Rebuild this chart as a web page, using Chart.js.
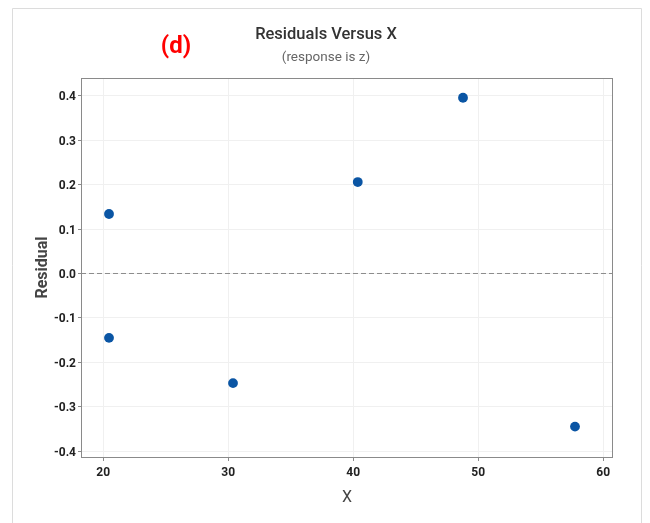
<!DOCTYPE html>
<html><head><meta charset="utf-8">
<script src="https://cdn.jsdelivr.net/npm/chart.js@4"></script>
<style>html,body{margin:0;padding:0;background:#fff;}#wrap{position:relative;width:650px;height:523px;}</style>
</head><body><div id="wrap"><canvas id="c" width="650" height="523"></canvas></div>
<script>
const xValues = [20.46, 20.46, 30.38, 40.36, 48.78, 57.74];
const residuals = [0.134, -0.145, -0.247, 0.206, 0.396, -0.345];
const xTicks = [20, 30, 40, 50, 60];
const yTicks = [-0.4, -0.3, -0.2, -0.1, 0.0, 0.1, 0.2, 0.3, 0.4];
const xRange = [18.22, 60.78];
const yRange = [-0.4135, 0.4405];
const referenceLevel = 0;
const chartTitle = 'Residuals Versus X';
const chartSubtitle = '(response is z)';
const panelLabel = '(d)';
const xAxisTitle = 'X';
const yAxisTitle = 'Residual';

const FONT = 'Roboto, "Liberation Sans", sans-serif';

const framePlugin = {
  id: 'frame',
  beforeDraw(chart) {
    const ctx = chart.ctx;
    ctx.save();
    ctx.fillStyle = '#fff';
    ctx.fillRect(0, 0, chart.width, chart.height);
    ctx.strokeStyle = '#dcdcdc';
    ctx.lineWidth = 1;
    ctx.beginPath();
    ctx.moveTo(12.5, chart.height);
    ctx.lineTo(12.5, 8.5);
    ctx.lineTo(641.5, 8.5);
    ctx.lineTo(641.5, chart.height);
    ctx.stroke();
    ctx.restore();
  },
  beforeDatasetsDraw(chart) {
    const a = chart.chartArea, ctx = chart.ctx;
    ctx.save();
    ctx.strokeStyle = '#8a8a8a';
    ctx.lineWidth = 1;
    ctx.strokeRect(Math.round(a.left) + 0.5, Math.round(a.top) + 0.5,
      Math.round(a.right - a.left) - 1, Math.round(a.bottom - a.top));
    ctx.restore();
  },
  afterDraw(chart) {
    const ctx = chart.ctx;
    ctx.save();
    ctx.textAlign = 'center';
    ctx.textBaseline = 'middle';
    ctx.fillStyle = '#333';
    ctx.font = '500 16.5px ' + FONT;
    ctx.fillText(chartTitle, 326, 35);
    ctx.fillStyle = '#666';
    ctx.font = '13.5px ' + FONT;
    ctx.fillText(chartSubtitle, 326, 58);
    ctx.fillStyle = '#ff0000';
    ctx.font = 'bold 24px ' + FONT;
    ctx.fillText(panelLabel, 176, 47);
    ctx.restore();
  }
};

new Chart(document.getElementById('c'), {
  type: 'scatter',
  data: {
    datasets: [
      {
        type: 'scatter',
        data: xValues.map((x, i) => ({x: x, y: residuals[i]})),
        backgroundColor: '#0a55a4',
        borderColor: '#0a55a4',
        borderWidth: 0,
        pointRadius: 4.9,
        pointHoverRadius: 4.9,
        order: 0
      },
      {
        type: 'line',
        data: [{x: xRange[0], y: referenceLevel}, {x: xRange[1], y: referenceLevel}],
        borderColor: '#8c8c8c',
        borderWidth: 1,
        borderDash: [5, 3],
        pointRadius: 0,
        fill: false,
        order: 1
      }
    ]
  },
  plugins: [framePlugin],
  options: {
    responsive: false,
    animation: false,
    devicePixelRatio: 1,
    layout: {padding: {left: 0, top: 78, right: 37, bottom: 0}},
    plugins: {legend: {display: false}, tooltip: {enabled: false}, title: {display: false}},
    scales: {
      x: {
        type: 'linear',
        min: xRange[0], max: xRange[1],
        afterBuildTicks: s => { s.ticks = xTicks.map(v => ({value: v})); },
        afterFit: s => { s.height = 66; },
        border: {display: false},
        grid: {color: '#f0f0f0', tickColor: '#8a8a8a', tickLength: 4, lineWidth: 1},
        ticks: {color: '#222', font: {family: FONT, size: 12, weight: 'bold'}, padding: 5, maxRotation: 0,
          callback: v => String(v)},
        title: {display: true, text: xAxisTitle, color: '#444', font: {family: FONT, size: 16}, padding: {top: 0, bottom: 15}}
      },
      y: {
        type: 'linear',
        min: yRange[0], max: yRange[1],
        afterBuildTicks: s => { s.ticks = yTicks.map(v => ({value: v})); },
        afterFit: s => { s.width = 81; },
        border: {display: false},
        grid: {color: '#f0f0f0', tickColor: '#8a8a8a', tickLength: 3, lineWidth: 1},
        ticks: {color: '#222', font: {family: FONT, size: 12, weight: 'bold'}, padding: 2, labelOffset: 1.5,
          callback: v => Number(v).toFixed(1)},
        title: {display: true, text: yAxisTitle, color: '#444', font: {family: FONT, size: 16, weight: 'bold'}, padding: {top: 33, bottom: 0}}
      }
    }
  }
});
</script>
</body></html>
